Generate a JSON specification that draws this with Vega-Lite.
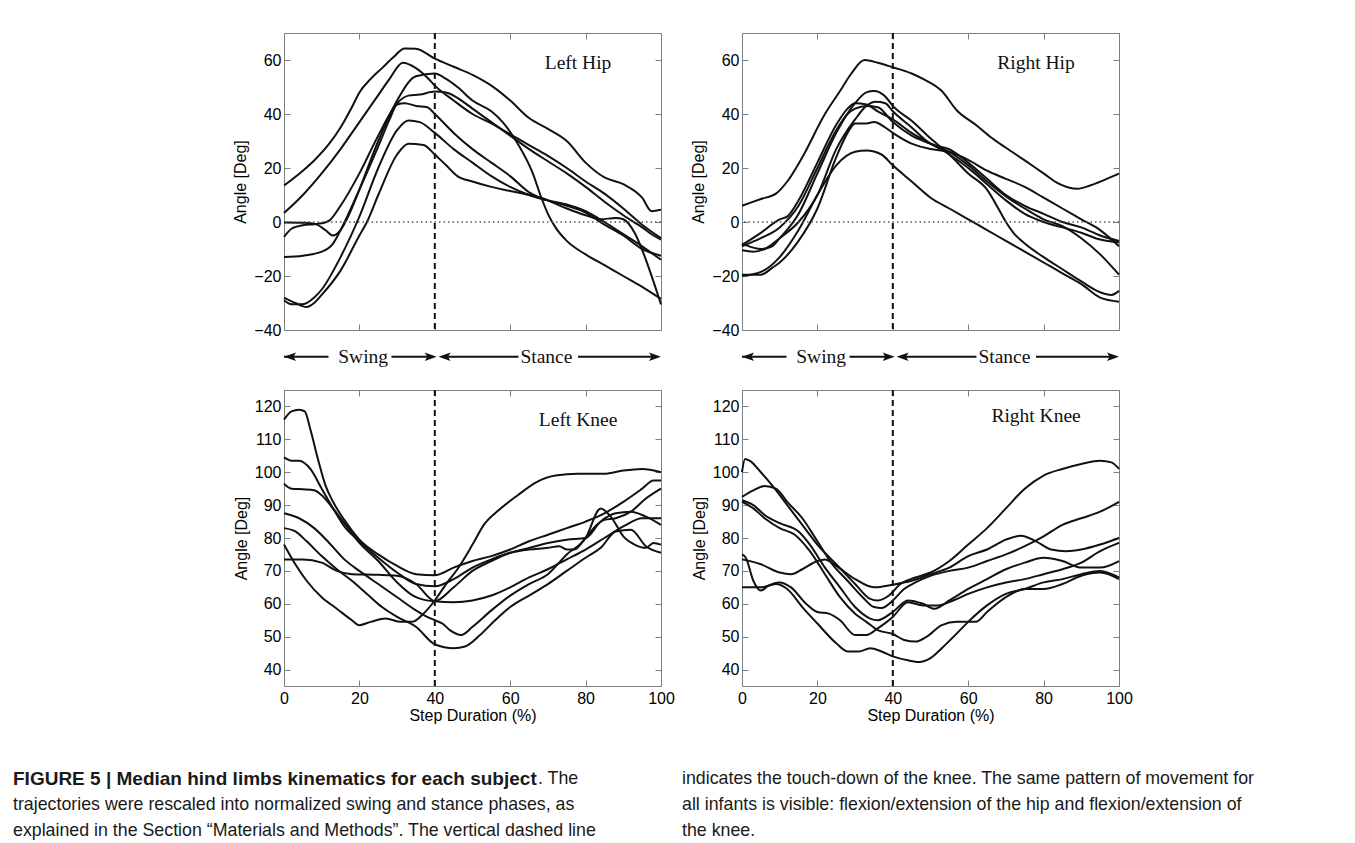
{
"$schema": "https://vega.github.io/schema/vega-lite/v6.json",
"background": "white",
"padding": {"left": 13, "top": 31, "right": 4, "bottom": 0},
"config": {
 "view": {"stroke": "#7f7f7f", "strokeWidth": 1},
 "axis": {"grid": false, "domain": false, "tickColor": "#7f7f7f", "tickSize": -6, "tickWidth": 1, "labelFont": "Liberation Sans", "labelFontSize": 16, "labelColor": "black", "labelFlush": false, "labelOverlap": false, "titleFont": "Liberation Sans", "titleFontSize": 16, "titleFontWeight": "normal", "titleColor": "black"}
},
"datasets": {
 "lh": [
  {"s":1,"x":0,"y":13.5},{"s":1,"x":5,"y":19},{"s":1,"x":8,"y":22.8},{"s":1,"x":12,"y":29},{"s":1,"x":15,"y":35},{"s":1,"x":18,"y":42.5},{"s":1,"x":20,"y":48},{"s":1,"x":23,"y":53},{"s":1,"x":26,"y":57},{"s":1,"x":29,"y":61},{"s":1,"x":32,"y":64.3},{"s":1,"x":35,"y":64.2},{"s":1,"x":40,"y":60.5},{"s":1,"x":45,"y":57.5},{"s":1,"x":50,"y":54.5},{"s":1,"x":55,"y":50.5},{"s":1,"x":60,"y":45},{"s":1,"x":65,"y":38.5},{"s":1,"x":70,"y":34.5},{"s":1,"x":75,"y":30},{"s":1,"x":80,"y":22},{"s":1,"x":85,"y":16.5},{"s":1,"x":90,"y":14},{"s":1,"x":95,"y":9},{"s":1,"x":97.5,"y":4},{"s":1,"x":100,"y":4.5},
  {"s":2,"x":0,"y":3.3},{"s":2,"x":5,"y":10},{"s":2,"x":10,"y":18},{"s":2,"x":15,"y":27},{"s":2,"x":20,"y":37},{"s":2,"x":25,"y":47},{"s":2,"x":28,"y":53},{"s":2,"x":31.5,"y":59},{"s":2,"x":35,"y":57},{"s":2,"x":38,"y":53.5},{"s":2,"x":40,"y":50.5},{"s":2,"x":45,"y":45},{"s":2,"x":50,"y":40},{"s":2,"x":55,"y":36.5},{"s":2,"x":60,"y":32.5},{"s":2,"x":65,"y":28.5},{"s":2,"x":70,"y":24.5},{"s":2,"x":75,"y":20},{"s":2,"x":80,"y":15},{"s":2,"x":85,"y":10.5},{"s":2,"x":90,"y":5},{"s":2,"x":95,"y":-1},{"s":2,"x":100,"y":-6},
  {"s":3,"x":0,"y":-0.2},{"s":3,"x":5,"y":-0.3},{"s":3,"x":8,"y":-0.6},{"s":3,"x":11,"y":-3},{"s":3,"x":13,"y":-5},{"s":3,"x":15,"y":-3},{"s":3,"x":17,"y":2},{"s":3,"x":20,"y":12},{"s":3,"x":25,"y":30},{"s":3,"x":30,"y":45},{"s":3,"x":35,"y":54},{"s":3,"x":40,"y":55},{"s":3,"x":43,"y":53},{"s":3,"x":46,"y":50},{"s":3,"x":50,"y":45},{"s":3,"x":55,"y":41},{"s":3,"x":58,"y":37},{"s":3,"x":62,"y":29},{"s":3,"x":66,"y":18},{"s":3,"x":68,"y":10},{"s":3,"x":70,"y":3},{"s":3,"x":72,"y":-2},{"s":3,"x":75,"y":-7},{"s":3,"x":80,"y":-12},{"s":3,"x":85,"y":-16},{"s":3,"x":90,"y":-20},{"s":3,"x":95,"y":-24},{"s":3,"x":100,"y":-28.5},
  {"s":4,"x":0,"y":-5.5},{"s":4,"x":2,"y":-2.5},{"s":4,"x":5,"y":-1.2},{"s":4,"x":8,"y":-0.8},{"s":4,"x":10,"y":-0.5},{"s":4,"x":12,"y":0.5},{"s":4,"x":15,"y":6},{"s":4,"x":20,"y":18},{"s":4,"x":25,"y":32},{"s":4,"x":30,"y":44},{"s":4,"x":33,"y":46.8},{"s":4,"x":36,"y":47.2},{"s":4,"x":40,"y":48.3},{"s":4,"x":43,"y":48},{"s":4,"x":46,"y":46},{"s":4,"x":50,"y":42},{"s":4,"x":55,"y":37},{"s":4,"x":60,"y":32},{"s":4,"x":65,"y":27},{"s":4,"x":70,"y":22.5},{"s":4,"x":75,"y":18},{"s":4,"x":80,"y":13},{"s":4,"x":85,"y":7.5},{"s":4,"x":90,"y":2.5},{"s":4,"x":95,"y":-2},{"s":4,"x":98,"y":-5},{"s":4,"x":100,"y":-6.5},
  {"s":5,"x":0,"y":-13},{"s":5,"x":5,"y":-12.5},{"s":5,"x":10,"y":-11},{"s":5,"x":13,"y":-8},{"s":5,"x":15,"y":-3},{"s":5,"x":20,"y":12},{"s":5,"x":25,"y":28},{"s":5,"x":28,"y":38},{"s":5,"x":30,"y":43.5},{"s":5,"x":32,"y":44},{"s":5,"x":35,"y":43},{"s":5,"x":38,"y":42.5},{"s":5,"x":40,"y":40},{"s":5,"x":45,"y":33},{"s":5,"x":50,"y":27},{"s":5,"x":55,"y":22},{"s":5,"x":60,"y":17},{"s":5,"x":65,"y":11},{"s":5,"x":70,"y":8},{"s":5,"x":75,"y":5},{"s":5,"x":80,"y":2.5},{"s":5,"x":84,"y":1},{"s":5,"x":88,"y":1.5},{"s":5,"x":90,"y":1},{"s":5,"x":93,"y":-4},{"s":5,"x":96,"y":-14},{"s":5,"x":98,"y":-22},{"s":5,"x":100,"y":-30.5},
  {"s":6,"x":0,"y":-29},{"s":6,"x":2,"y":-30.5},{"s":6,"x":5,"y":-30.5},{"s":6,"x":8,"y":-28},{"s":6,"x":10,"y":-25},{"s":6,"x":15,"y":-13},{"s":6,"x":20,"y":2},{"s":6,"x":25,"y":20},{"s":6,"x":30,"y":34},{"s":6,"x":33,"y":37.6},{"s":6,"x":36,"y":37},{"s":6,"x":40,"y":33},{"s":6,"x":45,"y":27},{"s":6,"x":50,"y":22},{"s":6,"x":55,"y":17},{"s":6,"x":60,"y":13},{"s":6,"x":65,"y":10},{"s":6,"x":70,"y":8},{"s":6,"x":75,"y":6},{"s":6,"x":80,"y":3.5},{"s":6,"x":85,"y":-1},{"s":6,"x":90,"y":-5},{"s":6,"x":95,"y":-10},{"s":6,"x":100,"y":-12.5},
  {"s":7,"x":0,"y":-28},{"s":7,"x":3,"y":-30},{"s":7,"x":6,"y":-31.5},{"s":7,"x":8,"y":-30},{"s":7,"x":10,"y":-27},{"s":7,"x":15,"y":-18},{"s":7,"x":20,"y":-5},{"s":7,"x":22,"y":0},{"s":7,"x":25,"y":10},{"s":7,"x":30,"y":25},{"s":7,"x":33,"y":29},{"s":7,"x":37,"y":28.5},{"s":7,"x":40,"y":25},{"s":7,"x":43,"y":21},{"s":7,"x":46,"y":17},{"s":7,"x":50,"y":15},{"s":7,"x":55,"y":13},{"s":7,"x":60,"y":11.5},{"s":7,"x":65,"y":10},{"s":7,"x":70,"y":8},{"s":7,"x":75,"y":6.5},{"s":7,"x":80,"y":4},{"s":7,"x":85,"y":0},{"s":7,"x":90,"y":-4.5},{"s":7,"x":95,"y":-9},{"s":7,"x":100,"y":-14}
 ],
 "rh": [
  {"s":1,"x":0,"y":6},{"s":1,"x":5,"y":8.5},{"s":1,"x":9,"y":10.5},{"s":1,"x":12,"y":15},{"s":1,"x":16,"y":24},{"s":1,"x":22,"y":40},{"s":1,"x":26,"y":48.5},{"s":1,"x":29,"y":55},{"s":1,"x":32.5,"y":60},{"s":1,"x":36,"y":59},{"s":1,"x":40,"y":57.3},{"s":1,"x":45,"y":55},{"s":1,"x":48,"y":53},{"s":1,"x":53,"y":48.5},{"s":1,"x":57,"y":41.3},{"s":1,"x":62,"y":36},{"s":1,"x":66,"y":31.4},{"s":1,"x":70,"y":27.5},{"s":1,"x":75,"y":22.8},{"s":1,"x":80,"y":18},{"s":1,"x":84,"y":14.2},{"s":1,"x":89,"y":12.3},{"s":1,"x":92.5,"y":13.6},{"s":1,"x":96,"y":15.5},{"s":1,"x":100,"y":17.9},
  {"s":2,"x":0,"y":-8},{"s":2,"x":3,"y":-9.5},{"s":2,"x":5,"y":-10},{"s":2,"x":8,"y":-9},{"s":2,"x":10,"y":-6},{"s":2,"x":15,"y":3},{"s":2,"x":20,"y":18},{"s":2,"x":25,"y":33},{"s":2,"x":30,"y":44},{"s":2,"x":33,"y":48},{"s":2,"x":35,"y":48.5},{"s":2,"x":38,"y":46.5},{"s":2,"x":40,"y":43},{"s":2,"x":45,"y":37.5},{"s":2,"x":50,"y":31},{"s":2,"x":55,"y":25},{"s":2,"x":60,"y":18},{"s":2,"x":65,"y":12},{"s":2,"x":68,"y":5},{"s":2,"x":70,"y":0},{"s":2,"x":72,"y":-4},{"s":2,"x":75,"y":-8},{"s":2,"x":80,"y":-13},{"s":2,"x":85,"y":-17.5},{"s":2,"x":90,"y":-22},{"s":2,"x":95,"y":-26},{"s":2,"x":98,"y":-27},{"s":2,"x":100,"y":-25.5},
  {"s":3,"x":0,"y":-8.5},{"s":3,"x":5,"y":-4},{"s":3,"x":10,"y":1},{"s":3,"x":12,"y":2},{"s":3,"x":15,"y":8},{"s":3,"x":20,"y":22},{"s":3,"x":25,"y":36},{"s":3,"x":28,"y":42},{"s":3,"x":30,"y":44},{"s":3,"x":33,"y":43.5},{"s":3,"x":36,"y":41},{"s":3,"x":40,"y":38},{"s":3,"x":45,"y":33},{"s":3,"x":50,"y":29},{"s":3,"x":55,"y":25},{"s":3,"x":60,"y":20},{"s":3,"x":65,"y":14},{"s":3,"x":70,"y":8},{"s":3,"x":75,"y":3},{"s":3,"x":80,"y":0},{"s":3,"x":85,"y":-2},{"s":3,"x":90,"y":-4},{"s":3,"x":95,"y":-6.5},{"s":3,"x":100,"y":-7.5},
  {"s":4,"x":0,"y":-10.5},{"s":4,"x":3,"y":-11},{"s":4,"x":6,"y":-10},{"s":4,"x":10,"y":-6},{"s":4,"x":15,"y":0},{"s":4,"x":20,"y":10},{"s":4,"x":25,"y":27},{"s":4,"x":30,"y":38},{"s":4,"x":33,"y":43},{"s":4,"x":35.5,"y":44.5},{"s":4,"x":38,"y":44},{"s":4,"x":40,"y":41},{"s":4,"x":45,"y":35},{"s":4,"x":50,"y":29},{"s":4,"x":55,"y":27},{"s":4,"x":60,"y":22},{"s":4,"x":65,"y":16},{"s":4,"x":70,"y":10},{"s":4,"x":75,"y":6},{"s":4,"x":80,"y":3},{"s":4,"x":85,"y":0},{"s":4,"x":90,"y":-2},{"s":4,"x":95,"y":-5},{"s":4,"x":100,"y":-7},
  {"s":5,"x":0,"y":-19.5},{"s":5,"x":5,"y":-19.5},{"s":5,"x":8,"y":-17},{"s":5,"x":10,"y":-15},{"s":5,"x":15,"y":-7},{"s":5,"x":20,"y":5},{"s":5,"x":25,"y":24},{"s":5,"x":28,"y":33},{"s":5,"x":30,"y":36.5},{"s":5,"x":33,"y":36.5},{"s":5,"x":35,"y":37},{"s":5,"x":38,"y":35},{"s":5,"x":40,"y":33},{"s":5,"x":45,"y":29},{"s":5,"x":50,"y":27},{"s":5,"x":55,"y":26},{"s":5,"x":60,"y":23},{"s":5,"x":65,"y":19},{"s":5,"x":70,"y":16},{"s":5,"x":75,"y":13},{"s":5,"x":80,"y":9},{"s":5,"x":85,"y":5},{"s":5,"x":90,"y":1},{"s":5,"x":95,"y":-3},{"s":5,"x":100,"y":-9},
  {"s":6,"x":0,"y":-20},{"s":6,"x":5,"y":-18.5},{"s":6,"x":10,"y":-13},{"s":6,"x":15,"y":-3},{"s":6,"x":20,"y":10},{"s":6,"x":25,"y":21},{"s":6,"x":30,"y":26},{"s":6,"x":33,"y":26.5},{"s":6,"x":37,"y":25},{"s":6,"x":40,"y":21},{"s":6,"x":45,"y":15},{"s":6,"x":50,"y":9},{"s":6,"x":55,"y":5},{"s":6,"x":60,"y":1},{"s":6,"x":65,"y":-3},{"s":6,"x":70,"y":-7},{"s":6,"x":75,"y":-11},{"s":6,"x":80,"y":-15},{"s":6,"x":85,"y":-19},{"s":6,"x":90,"y":-23},{"s":6,"x":95,"y":-28},{"s":6,"x":100,"y":-29.5},
  {"s":7,"x":0,"y":-9},{"s":7,"x":5,"y":-6},{"s":7,"x":10,"y":-2},{"s":7,"x":15,"y":6},{"s":7,"x":20,"y":20},{"s":7,"x":25,"y":34},{"s":7,"x":28,"y":40},{"s":7,"x":30,"y":42},{"s":7,"x":33,"y":43},{"s":7,"x":36,"y":42.5},{"s":7,"x":40,"y":37},{"s":7,"x":45,"y":32},{"s":7,"x":50,"y":29},{"s":7,"x":55,"y":26},{"s":7,"x":60,"y":21},{"s":7,"x":65,"y":15},{"s":7,"x":70,"y":9.5},{"s":7,"x":75,"y":5},{"s":7,"x":80,"y":1},{"s":7,"x":85,"y":-1.5},{"s":7,"x":90,"y":-6},{"s":7,"x":95,"y":-12},{"s":7,"x":100,"y":-19.5}
 ],
 "lk": [
  {"s":1,"x":0,"y":116},{"s":1,"x":2,"y":118.5},{"s":1,"x":4,"y":119},{"s":1,"x":5.5,"y":118.5},{"s":1,"x":7,"y":113},{"s":1,"x":9,"y":104},{"s":1,"x":11,"y":96},{"s":1,"x":13,"y":91},{"s":1,"x":16,"y":85.5},{"s":1,"x":20,"y":79.5},{"s":1,"x":25,"y":75},{"s":1,"x":30,"y":71.5},{"s":1,"x":35,"y":69},{"s":1,"x":40,"y":68.7},{"s":1,"x":45,"y":71},{"s":1,"x":50,"y":73},{"s":1,"x":55,"y":74.5},{"s":1,"x":60,"y":76.5},{"s":1,"x":65,"y":79},{"s":1,"x":70,"y":81},{"s":1,"x":75,"y":83},{"s":1,"x":80,"y":85},{"s":1,"x":85,"y":87.5},{"s":1,"x":90,"y":91},{"s":1,"x":95,"y":95},{"s":1,"x":98,"y":97.5},{"s":1,"x":100,"y":97.5},
  {"s":2,"x":0,"y":104.5},{"s":2,"x":2,"y":103.5},{"s":2,"x":4,"y":103.5},{"s":2,"x":7,"y":101},{"s":2,"x":10,"y":95},{"s":2,"x":13,"y":89},{"s":2,"x":16,"y":83.5},{"s":2,"x":20,"y":79},{"s":2,"x":25,"y":74},{"s":2,"x":30,"y":69.5},{"s":2,"x":35,"y":66},{"s":2,"x":40,"y":65.3},{"s":2,"x":45,"y":67.5},{"s":2,"x":50,"y":71},{"s":2,"x":55,"y":73.5},{"s":2,"x":60,"y":75.5},{"s":2,"x":65,"y":76.5},{"s":2,"x":70,"y":77},{"s":2,"x":73,"y":77.5},{"s":2,"x":75,"y":76.5},{"s":2,"x":77,"y":76.5},{"s":2,"x":80,"y":80},{"s":2,"x":83,"y":84},{"s":2,"x":85,"y":85.5},{"s":2,"x":88,"y":86},{"s":2,"x":92,"y":88},{"s":2,"x":96,"y":92},{"s":2,"x":100,"y":95},
  {"s":3,"x":0,"y":96.5},{"s":3,"x":2,"y":95},{"s":3,"x":5,"y":94.8},{"s":3,"x":8,"y":94.5},{"s":3,"x":10,"y":93},{"s":3,"x":13,"y":89},{"s":3,"x":16,"y":84.5},{"s":3,"x":20,"y":78.5},{"s":3,"x":25,"y":73},{"s":3,"x":30,"y":66.5},{"s":3,"x":35,"y":62},{"s":3,"x":40,"y":60.8},{"s":3,"x":45,"y":65},{"s":3,"x":50,"y":70},{"s":3,"x":55,"y":73},{"s":3,"x":60,"y":75.5},{"s":3,"x":65,"y":77},{"s":3,"x":70,"y":78.5},{"s":3,"x":75,"y":79.5},{"s":3,"x":80,"y":80},{"s":3,"x":84,"y":85},{"s":3,"x":88,"y":87.5},{"s":3,"x":92,"y":88},{"s":3,"x":96,"y":86.5},{"s":3,"x":100,"y":84},
  {"s":4,"x":0,"y":87.5},{"s":4,"x":4,"y":86},{"s":4,"x":8,"y":83},{"s":4,"x":12,"y":78.5},{"s":4,"x":16,"y":73.5},{"s":4,"x":20,"y":70},{"s":4,"x":25,"y":66},{"s":4,"x":30,"y":62},{"s":4,"x":35,"y":58},{"s":4,"x":38,"y":56},{"s":4,"x":40,"y":55},{"s":4,"x":42,"y":54},{"s":4,"x":44,"y":52},{"s":4,"x":47,"y":50.5},{"s":4,"x":50,"y":53},{"s":4,"x":55,"y":58},{"s":4,"x":60,"y":62.5},{"s":4,"x":65,"y":66},{"s":4,"x":70,"y":69},{"s":4,"x":75,"y":75},{"s":4,"x":80,"y":80},{"s":4,"x":84,"y":89},{"s":4,"x":87,"y":86},{"s":4,"x":90,"y":80.5},{"s":4,"x":93,"y":78},{"s":4,"x":96,"y":77},{"s":4,"x":98,"y":78.5},{"s":4,"x":100,"y":78},
  {"s":5,"x":0,"y":83},{"s":5,"x":3,"y":82},{"s":5,"x":6,"y":79},{"s":5,"x":10,"y":74.5},{"s":5,"x":14,"y":70.5},{"s":5,"x":18,"y":67},{"s":5,"x":22,"y":63},{"s":5,"x":26,"y":59},{"s":5,"x":30,"y":56},{"s":5,"x":35,"y":53},{"s":5,"x":40,"y":47.7},{"s":5,"x":45,"y":46.5},{"s":5,"x":48,"y":47},{"s":5,"x":52,"y":50.5},{"s":5,"x":56,"y":55},{"s":5,"x":60,"y":59},{"s":5,"x":65,"y":62.5},{"s":5,"x":70,"y":66},{"s":5,"x":75,"y":70},{"s":5,"x":80,"y":74},{"s":5,"x":84,"y":77},{"s":5,"x":88,"y":82},{"s":5,"x":92,"y":82.5},{"s":5,"x":96,"y":77.5},{"s":5,"x":100,"y":75.5},
  {"s":6,"x":0,"y":78},{"s":6,"x":3,"y":72},{"s":6,"x":6,"y":67},{"s":6,"x":10,"y":62},{"s":6,"x":14,"y":58.5},{"s":6,"x":18,"y":55},{"s":6,"x":20,"y":53.5},{"s":6,"x":23,"y":54.5},{"s":6,"x":27,"y":55.5},{"s":6,"x":31,"y":54.5},{"s":6,"x":34,"y":54.5},{"s":6,"x":37,"y":57},{"s":6,"x":40,"y":61},{"s":6,"x":43,"y":66},{"s":6,"x":46,"y":70.5},{"s":6,"x":50,"y":78},{"s":6,"x":53,"y":84},{"s":6,"x":57,"y":88.5},{"s":6,"x":62,"y":93},{"s":6,"x":67,"y":97},{"s":6,"x":72,"y":99},{"s":6,"x":78,"y":99.5},{"s":6,"x":85,"y":99.5},{"s":6,"x":90,"y":100.5},{"s":6,"x":95,"y":101},{"s":6,"x":100,"y":100},
  {"s":7,"x":0,"y":73.5},{"s":7,"x":5,"y":73.5},{"s":7,"x":10,"y":72.5},{"s":7,"x":14,"y":70},{"s":7,"x":18,"y":69},{"s":7,"x":25,"y":68.8},{"s":7,"x":30,"y":68.5},{"s":7,"x":35,"y":66},{"s":7,"x":40,"y":60.8},{"s":7,"x":45,"y":60.5},{"s":7,"x":50,"y":61},{"s":7,"x":55,"y":62.5},{"s":7,"x":60,"y":65},{"s":7,"x":65,"y":68},{"s":7,"x":70,"y":70.5},{"s":7,"x":75,"y":73.5},{"s":7,"x":80,"y":76.5},{"s":7,"x":85,"y":80},{"s":7,"x":90,"y":83.5},{"s":7,"x":95,"y":86},{"s":7,"x":100,"y":86}
 ],
 "rk": [
  {"s":1,"x":0,"y":100},{"s":1,"x":0.8,"y":104},{"s":1,"x":2,"y":103.5},{"s":1,"x":5,"y":100},{"s":1,"x":8,"y":96},{"s":1,"x":12,"y":90},{"s":1,"x":16,"y":84},{"s":1,"x":20,"y":78},{"s":1,"x":25,"y":72},{"s":1,"x":30,"y":66},{"s":1,"x":34,"y":61.5},{"s":1,"x":36,"y":61},{"s":1,"x":39,"y":62.5},{"s":1,"x":42,"y":66},{"s":1,"x":46,"y":68},{"s":1,"x":50,"y":69.5},{"s":1,"x":55,"y":73},{"s":1,"x":60,"y":78},{"s":1,"x":65,"y":83},{"s":1,"x":70,"y":89},{"s":1,"x":75,"y":95},{"s":1,"x":80,"y":99},{"s":1,"x":85,"y":101},{"s":1,"x":90,"y":102.5},{"s":1,"x":95,"y":103.5},{"s":1,"x":98,"y":103},{"s":1,"x":100,"y":101},
  {"s":2,"x":0,"y":92.5},{"s":2,"x":3,"y":94.5},{"s":2,"x":6,"y":95.8},{"s":2,"x":9,"y":95},{"s":2,"x":12,"y":91},{"s":2,"x":16,"y":86},{"s":2,"x":20,"y":79},{"s":2,"x":24,"y":72},{"s":2,"x":28,"y":67},{"s":2,"x":32,"y":62},{"s":2,"x":35,"y":59},{"s":2,"x":37,"y":58.7},{"s":2,"x":40,"y":61},{"s":2,"x":43,"y":64.5},{"s":2,"x":46,"y":66.5},{"s":2,"x":50,"y":68.5},{"s":2,"x":55,"y":70},{"s":2,"x":60,"y":71},{"s":2,"x":65,"y":73},{"s":2,"x":70,"y":75},{"s":2,"x":75,"y":77.5},{"s":2,"x":80,"y":80.5},{"s":2,"x":85,"y":84},{"s":2,"x":90,"y":86},{"s":2,"x":95,"y":88},{"s":2,"x":100,"y":91},
  {"s":3,"x":0,"y":91.5},{"s":3,"x":3,"y":90},{"s":3,"x":6,"y":87},{"s":3,"x":10,"y":84.5},{"s":3,"x":15,"y":82},{"s":3,"x":18,"y":78},{"s":3,"x":22,"y":71},{"s":3,"x":26,"y":65},{"s":3,"x":30,"y":59},{"s":3,"x":34,"y":55.5},{"s":3,"x":36,"y":55},{"s":3,"x":40,"y":57.5},{"s":3,"x":44,"y":61},{"s":3,"x":48,"y":60},{"s":3,"x":51,"y":58.5},{"s":3,"x":55,"y":61},{"s":3,"x":60,"y":64.5},{"s":3,"x":65,"y":67.5},{"s":3,"x":70,"y":70.5},{"s":3,"x":75,"y":72.5},{"s":3,"x":80,"y":74},{"s":3,"x":85,"y":73},{"s":3,"x":90,"y":71},{"s":3,"x":95,"y":71},{"s":3,"x":100,"y":73},
  {"s":4,"x":0,"y":91},{"s":4,"x":3,"y":89},{"s":4,"x":6,"y":86},{"s":4,"x":10,"y":83},{"s":4,"x":14,"y":81},{"s":4,"x":18,"y":76},{"s":4,"x":22,"y":69},{"s":4,"x":26,"y":62},{"s":4,"x":30,"y":57},{"s":4,"x":33,"y":54.5},{"s":4,"x":36,"y":52},{"s":4,"x":40,"y":50.8},{"s":4,"x":43,"y":49},{"s":4,"x":46,"y":48.5},{"s":4,"x":49,"y":50},{"s":4,"x":53,"y":53.5},{"s":4,"x":57,"y":54.5},{"s":4,"x":62,"y":54.5},{"s":4,"x":65,"y":57.5},{"s":4,"x":70,"y":62},{"s":4,"x":75,"y":64.5},{"s":4,"x":80,"y":64.5},{"s":4,"x":85,"y":66},{"s":4,"x":90,"y":68.5},{"s":4,"x":95,"y":69.5},{"s":4,"x":100,"y":67.5},
  {"s":5,"x":0,"y":75},{"s":5,"x":1,"y":74},{"s":5,"x":3,"y":67},{"s":5,"x":5,"y":64},{"s":5,"x":7,"y":65.5},{"s":5,"x":10,"y":66.5},{"s":5,"x":13,"y":65},{"s":5,"x":17,"y":60},{"s":5,"x":20,"y":57.5},{"s":5,"x":23,"y":57},{"s":5,"x":26,"y":55},{"s":5,"x":30,"y":50.5},{"s":5,"x":33,"y":50.5},{"s":5,"x":36,"y":52.5},{"s":5,"x":40,"y":56},{"s":5,"x":44,"y":60.5},{"s":5,"x":48,"y":59.5},{"s":5,"x":52,"y":59.5},{"s":5,"x":56,"y":61},{"s":5,"x":60,"y":63},{"s":5,"x":65,"y":65},{"s":5,"x":70,"y":66.5},{"s":5,"x":75,"y":67.5},{"s":5,"x":80,"y":69},{"s":5,"x":85,"y":70.5},{"s":5,"x":90,"y":72.5},{"s":5,"x":95,"y":76},{"s":5,"x":100,"y":78.5},
  {"s":6,"x":0,"y":73.5},{"s":6,"x":5,"y":72},{"s":6,"x":10,"y":69.5},{"s":6,"x":13,"y":69},{"s":6,"x":16,"y":70.5},{"s":6,"x":20,"y":73},{"s":6,"x":22,"y":73.5},{"s":6,"x":25,"y":71.5},{"s":6,"x":30,"y":67.5},{"s":6,"x":35,"y":65},{"s":6,"x":40,"y":65.8},{"s":6,"x":45,"y":67},{"s":6,"x":50,"y":69},{"s":6,"x":55,"y":71},{"s":6,"x":60,"y":74.5},{"s":6,"x":65,"y":76.5},{"s":6,"x":70,"y":79.5},{"s":6,"x":74,"y":80.7},{"s":6,"x":78,"y":79},{"s":6,"x":82,"y":76.5},{"s":6,"x":86,"y":76},{"s":6,"x":90,"y":76.5},{"s":6,"x":95,"y":78},{"s":6,"x":100,"y":80},
  {"s":7,"x":0,"y":65},{"s":7,"x":5,"y":65},{"s":7,"x":9,"y":66},{"s":7,"x":12,"y":64.5},{"s":7,"x":16,"y":59},{"s":7,"x":20,"y":54},{"s":7,"x":25,"y":48},{"s":7,"x":28,"y":45.5},{"s":7,"x":31,"y":45.5},{"s":7,"x":34,"y":46.5},{"s":7,"x":37,"y":45.5},{"s":7,"x":40,"y":44},{"s":7,"x":44,"y":42.8},{"s":7,"x":47,"y":42.3},{"s":7,"x":50,"y":43.5},{"s":7,"x":53,"y":46.5},{"s":7,"x":57,"y":51},{"s":7,"x":60,"y":54.5},{"s":7,"x":65,"y":59.5},{"s":7,"x":70,"y":63},{"s":7,"x":75,"y":64.5},{"s":7,"x":80,"y":66.5},{"s":7,"x":85,"y":67.5},{"s":7,"x":90,"y":69},{"s":7,"x":95,"y":70},{"s":7,"x":100,"y":68}
 ],
 "segs": [{"a":0,"b":11.8},{"a":28.5,"b":39.5},{"a":42,"b":62.2},{"a":78,"b":99}],
 "heads": [{"x":0,"dir":"left"},{"x":40.5,"dir":"right"},{"x":41,"dir":"left"},{"x":100,"dir":"right"}],
 "phases": [{"x":21,"t":"Swing"},{"x":69.6,"t":"Stance"}],
 "caption": [
  {"col":"a","line":1,"role":"head","t":"FIGURE 5 | Median hind limbs kinematics for each subject"},
  {"col":"a","line":1,"role":"after","t":". The"},
  {"col":"a","line":2,"role":"body","t":"trajectories were rescaled into normalized swing and stance phases, as"},
  {"col":"a","line":3,"role":"body","t":"explained in the Section “Materials and Methods”. The vertical dashed line"},
  {"col":"b","line":1,"role":"body","t":"indicates the touch-down of the knee. The same pattern of movement for"},
  {"col":"b","line":2,"role":"body","t":"all infants is visible: flexion/extension of the hip and flexion/extension of"},
  {"col":"b","line":3,"role":"body","t":"the knee."}
 ]
},
"spacing": 42,
"vconcat": [
 {
  "spacing": 0,
  "hconcat": [
   {"width": 219, "height": 10, "view": {"stroke": null}, "data": {"values": [{}]}, "mark": {"type": "text"}, "encoding": {"text": {"value": ""}}},
   {
    "columns": 2,
    "bounds": "flush",
    "spacing": {"row": 7, "column": 81},
    "concat": [
     {
      "width": 377, "height": 297,
      "layer": [
       {"data": {"name": "lh"}, "mark": {"type": "line", "color": "#111", "strokeWidth": 2, "interpolate": "monotone"},
        "encoding": {
         "x": {"field": "x", "type": "quantitative", "scale": {"domain": [0, 100], "nice": false, "zero": false}, "axis": {"orient": "bottom", "values": [0, 20, 40, 60, 80, 100], "labels": false, "title": null}},
         "y": {"field": "y", "type": "quantitative", "scale": {"domain": [-40, 70], "nice": false, "zero": false}, "axis": {"orient": "left", "values": [-40, -20, 0, 20, 40, 60], "title": "Angle [Deg]", "labelPadding": 9, "titlePadding": 5}},
         "detail": {"field": "s", "type": "nominal"}}},
       {"data": {"values": [{}]}, "mark": {"type": "rule", "color": "#555", "strokeWidth": 1.3, "strokeDash": [1.5, 3]},
        "encoding": {"y": {"datum": 0, "scale": {"domain": [-40, 70], "nice": false, "zero": false}, "axis": null}}},
       {"data": {"values": [{}]}, "mark": {"type": "rule", "color": "#111", "strokeWidth": 2, "strokeDash": [6, 4]},
        "encoding": {"x": {"datum": 40, "scale": {"domain": [0, 100], "nice": false, "zero": false}, "axis": null}}},
       {"data": {"values": [{}]}, "mark": {"type": "text", "font": "Liberation Serif", "fontSize": 19.5, "color": "#111"},
        "encoding": {
         "x": {"datum": 78, "scale": {"domain": [0, 100], "nice": false, "zero": false}, "axis": {"orient": "top", "values": [0, 20, 40, 60, 80, 100], "labels": false, "title": null}},
         "y": {"datum": 59, "scale": {"domain": [-40, 70], "nice": false, "zero": false}, "axis": {"orient": "right", "values": [-40, -20, 0, 20, 40, 60], "labels": false, "title": null}},
         "text": {"value": "Left Hip"}}}
      ],
      "resolve": {"axis": {"x": "independent", "y": "independent"}}
     },
     {
      "width": 377, "height": 297,
      "layer": [
       {"data": {"name": "rh"}, "mark": {"type": "line", "color": "#111", "strokeWidth": 2, "interpolate": "monotone"},
        "encoding": {
         "x": {"field": "x", "type": "quantitative", "scale": {"domain": [0, 100], "nice": false, "zero": false}, "axis": {"orient": "bottom", "values": [0, 20, 40, 60, 80, 100], "labels": false, "title": null}},
         "y": {"field": "y", "type": "quantitative", "scale": {"domain": [-40, 70], "nice": false, "zero": false}, "axis": {"orient": "left", "values": [-40, -20, 0, 20, 40, 60], "title": "Angle [Deg]", "labelPadding": 9, "titlePadding": 5}},
         "detail": {"field": "s", "type": "nominal"}}},
       {"data": {"values": [{}]}, "mark": {"type": "rule", "color": "#555", "strokeWidth": 1.3, "strokeDash": [1.5, 3]},
        "encoding": {"y": {"datum": 0, "scale": {"domain": [-40, 70], "nice": false, "zero": false}, "axis": null}}},
       {"data": {"values": [{}]}, "mark": {"type": "rule", "color": "#111", "strokeWidth": 2, "strokeDash": [6, 4]},
        "encoding": {"x": {"datum": 40, "scale": {"domain": [0, 100], "nice": false, "zero": false}, "axis": null}}},
       {"data": {"values": [{}]}, "mark": {"type": "text", "font": "Liberation Serif", "fontSize": 19.5, "color": "#111"},
        "encoding": {
         "x": {"datum": 78, "scale": {"domain": [0, 100], "nice": false, "zero": false}, "axis": {"orient": "top", "values": [0, 20, 40, 60, 80, 100], "labels": false, "title": null}},
         "y": {"datum": 59, "scale": {"domain": [-40, 70], "nice": false, "zero": false}, "axis": {"orient": "right", "values": [-40, -20, 0, 20, 40, 60], "labels": false, "title": null}},
         "text": {"value": "Right Hip"}}}
      ],
      "resolve": {"axis": {"x": "independent", "y": "independent"}}
     },
     {
      "width": 377, "height": 46, "view": {"stroke": null},
      "layer": [
       {"data": {"name": "segs"}, "mark": {"type": "rule", "color": "#111", "strokeWidth": 2},
        "encoding": {"x": {"field": "a", "type": "quantitative", "scale": {"domain": [0, 100], "nice": false, "zero": false}, "axis": null}, "x2": {"field": "b"}, "y": {"datum": 0.57, "scale": {"domain": [0, 1]}, "axis": null}}},
       {"data": {"name": "heads"}, "mark": {"type": "point", "filled": true, "color": "#111", "opacity": 1, "size": 576},
        "encoding": {"x": {"field": "x", "type": "quantitative", "scale": {"domain": [0, 100], "nice": false, "zero": false}, "axis": null}, "y": {"datum": 0.57, "scale": {"domain": [0, 1]}, "axis": null},
         "shape": {"field": "dir", "type": "nominal", "scale": {"domain": ["left", "right"], "range": ["M0,0L1,-0.36L0.78,0L1,0.36Z", "M0,0L-1,-0.36L-0.78,0L-1,0.36Z"]}, "legend": null}}},
       {"data": {"name": "phases"}, "mark": {"type": "text", "font": "Liberation Serif", "fontSize": 19.5, "color": "#111", "baseline": "middle"},
        "encoding": {"x": {"field": "x", "type": "quantitative", "scale": {"domain": [0, 100], "nice": false, "zero": false}, "axis": null}, "y": {"datum": 0.57, "scale": {"domain": [0, 1]}, "axis": null}, "text": {"field": "t"}}}
      ]
     },
     {
      "width": 377, "height": 46, "view": {"stroke": null},
      "layer": [
       {"data": {"name": "segs"}, "mark": {"type": "rule", "color": "#111", "strokeWidth": 2},
        "encoding": {"x": {"field": "a", "type": "quantitative", "scale": {"domain": [0, 100], "nice": false, "zero": false}, "axis": null}, "x2": {"field": "b"}, "y": {"datum": 0.57, "scale": {"domain": [0, 1]}, "axis": null}}},
       {"data": {"name": "heads"}, "mark": {"type": "point", "filled": true, "color": "#111", "opacity": 1, "size": 576},
        "encoding": {"x": {"field": "x", "type": "quantitative", "scale": {"domain": [0, 100], "nice": false, "zero": false}, "axis": null}, "y": {"datum": 0.57, "scale": {"domain": [0, 1]}, "axis": null},
         "shape": {"field": "dir", "type": "nominal", "scale": {"domain": ["left", "right"], "range": ["M0,0L1,-0.36L0.78,0L1,0.36Z", "M0,0L-1,-0.36L-0.78,0L-1,0.36Z"]}, "legend": null}}},
       {"data": {"name": "phases"}, "mark": {"type": "text", "font": "Liberation Serif", "fontSize": 19.5, "color": "#111", "baseline": "middle"},
        "encoding": {"x": {"field": "x", "type": "quantitative", "scale": {"domain": [0, 100], "nice": false, "zero": false}, "axis": null}, "y": {"datum": 0.57, "scale": {"domain": [0, 1]}, "axis": null}, "text": {"field": "t"}}}
      ]
     },
     {
      "width": 377, "height": 296,
      "layer": [
       {"data": {"name": "lk"}, "mark": {"type": "line", "color": "#111", "strokeWidth": 2, "interpolate": "monotone"},
        "encoding": {
         "x": {"field": "x", "type": "quantitative", "scale": {"domain": [0, 100], "nice": false, "zero": false}, "axis": {"orient": "bottom", "values": [0, 20, 40, 60, 80, 100], "title": "Step Duration (%)", "labelPadding": 10, "titlePadding": 1}},
         "y": {"field": "y", "type": "quantitative", "scale": {"domain": [35, 125], "nice": false, "zero": false}, "axis": {"orient": "left", "values": [40, 50, 60, 70, 80, 90, 100, 110, 120], "title": "Angle [Deg]", "labelPadding": 9, "titlePadding": 5}},
         "detail": {"field": "s", "type": "nominal"}}},
       {"data": {"values": [{}]}, "mark": {"type": "rule", "color": "#111", "strokeWidth": 2, "strokeDash": [6, 4]},
        "encoding": {"x": {"datum": 40, "scale": {"domain": [0, 100], "nice": false, "zero": false}, "axis": null}}},
       {"data": {"values": [{}]}, "mark": {"type": "text", "font": "Liberation Serif", "fontSize": 19.5, "color": "#111"},
        "encoding": {
         "x": {"datum": 78, "scale": {"domain": [0, 100], "nice": false, "zero": false}, "axis": {"orient": "top", "values": [0, 20, 40, 60, 80, 100], "labels": false, "title": null}},
         "y": {"datum": 116, "scale": {"domain": [35, 125], "nice": false, "zero": false}, "axis": {"orient": "right", "values": [40, 50, 60, 70, 80, 90, 100, 110, 120], "labels": false, "title": null}},
         "text": {"value": "Left Knee"}}}
      ],
      "resolve": {"axis": {"x": "independent", "y": "independent"}}
     },
     {
      "width": 377, "height": 296,
      "layer": [
       {"data": {"name": "rk"}, "mark": {"type": "line", "color": "#111", "strokeWidth": 2, "interpolate": "monotone"},
        "encoding": {
         "x": {"field": "x", "type": "quantitative", "scale": {"domain": [0, 100], "nice": false, "zero": false}, "axis": {"orient": "bottom", "values": [0, 20, 40, 60, 80, 100], "title": "Step Duration (%)", "labelPadding": 10, "titlePadding": 1}},
         "y": {"field": "y", "type": "quantitative", "scale": {"domain": [35, 125], "nice": false, "zero": false}, "axis": {"orient": "left", "values": [40, 50, 60, 70, 80, 90, 100, 110, 120], "title": "Angle [Deg]", "labelPadding": 9, "titlePadding": 5}},
         "detail": {"field": "s", "type": "nominal"}}},
       {"data": {"values": [{}]}, "mark": {"type": "rule", "color": "#111", "strokeWidth": 2, "strokeDash": [6, 4]},
        "encoding": {"x": {"datum": 40, "scale": {"domain": [0, 100], "nice": false, "zero": false}, "axis": null}}},
       {"data": {"values": [{}]}, "mark": {"type": "text", "font": "Liberation Serif", "fontSize": 19.5, "color": "#111"},
        "encoding": {
         "x": {"datum": 78, "scale": {"domain": [0, 100], "nice": false, "zero": false}, "axis": {"orient": "top", "values": [0, 20, 40, 60, 80, 100], "labels": false, "title": null}},
         "y": {"datum": 117, "scale": {"domain": [35, 125], "nice": false, "zero": false}, "axis": {"orient": "right", "values": [40, 50, 60, 70, 80, 90, 100, 110, 120], "labels": false, "title": null}},
         "text": {"value": "Right Knee"}}}
      ],
      "resolve": {"axis": {"x": "independent", "y": "independent"}}
     }
    ]
   }
  ]
 },
 {
  "width": 1338, "height": 78, "view": {"stroke": null},
  "data": {"name": "caption"},
  "encoding": {
   "x": {"field": "col", "type": "nominal", "scale": {"type": "band", "domain": ["a", "b"], "paddingInner": 0, "paddingOuter": 0}, "axis": null, "bandPosition": 0},
   "y": {"field": "line", "type": "ordinal", "scale": {"type": "band", "domain": [1, 2, 3], "paddingInner": 0, "paddingOuter": 0}, "axis": null}
  },
  "layer": [
   {"transform": [{"filter": "datum.role === 'body'"}], "mark": {"type": "text", "font": "Liberation Sans", "fontSize": 17.8, "color": "#1a1a1a", "align": "left", "baseline": "middle"}, "encoding": {"text": {"field": "t"}}},
   {"transform": [{"filter": "datum.role === 'head'"}], "mark": {"type": "text", "font": "Liberation Sans", "fontSize": 19, "fontWeight": "bold", "color": "#1a1a1a", "align": "left", "baseline": "middle"}, "encoding": {"text": {"field": "t"}}},
   {"transform": [{"filter": "datum.role === 'after'"}], "mark": {"type": "text", "font": "Liberation Sans", "fontSize": 17.8, "color": "#1a1a1a", "align": "left", "baseline": "middle", "dx": 525}, "encoding": {"text": {"field": "t"}}}
  ]
 }
]
}
